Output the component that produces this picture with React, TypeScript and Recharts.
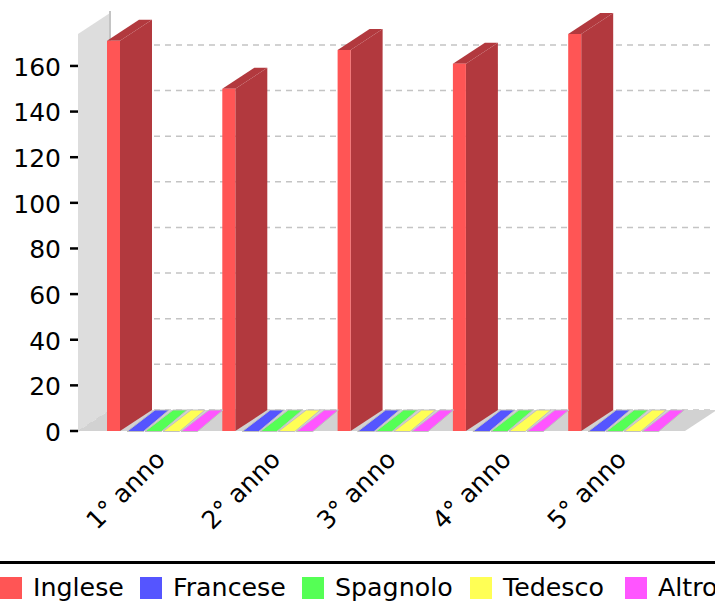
import { Bar, BarChart, CartesianGrid, Legend, usePlotArea, XAxis, YAxis } from "recharts";

const categories = ["1° anno", "2° anno", "3° anno", "4° anno", "5° anno"];
const inglese = [171, 150, 167, 161, 174];
const francese = [0, 0, 0, 0, 0];
const spagnolo = [0, 0, 0, 0, 0];
const tedesco = [0, 0, 0, 0, 0];
const altro = [0, 0, 0, 0, 0];
const yTicks = [0, 20, 40, 60, 80, 100, 120, 140, 160];

const seriesNames = ["Inglese", "Francese", "Spagnolo", "Tedesco", "Altro"];
const seriesColors = ["#ff5555", "#5555ff", "#55ff55", "#ffff55", "#ff55ff"];
const seriesShades = ["#b2393e", "#3b3bb2", "#3bb23b", "#b2b23b", "#b23bb2"];
const legendWidths = [140, 162, 168, 155, 90];

const data = categories.map((name, i) => ({
  name,
  Inglese: inglese[i],
  Francese: francese[i],
  Spagnolo: spagnolo[i],
  Tedesco: tedesco[i],
  Altro: altro[i],
}));

// depth of the fake 3d effect
const DX = 32;
const DY = 21;

const Backdrop = () => {
  const plot = usePlotArea();
  if (!plot) return null;
  const { x, y, width, height } = plot;
  const bottom = y + height;
  return (
    <g>
      <polygon
        points={`${x},${bottom} ${x},${y} ${x + DX},${y - DY} ${x + DX},${bottom - DY}`}
        fill="#dddddd"
      />
      <polygon
        points={`${x},${bottom} ${x + DX},${bottom - DY} ${x + width + DX},${bottom - DY} ${x + width},${bottom}`}
        fill="#d2d2d2"
      />
      <line x1={x + DX} y1={y - DY - 2} x2={x + DX} y2={bottom - DY} stroke="#c4c4c4" strokeWidth={2} />
    </g>
  );
};

const gridLine = (props: any) => {
  const { x1, x2, y1, y, key } = props;
  // the grid also hands over the top edge of the plot, which has no tick
  if (y1 <= y + 0.5) return <g key={key} />;
  return (
    <g key={key}>
      <line x1={x1} y1={y1} x2={x1 + DX} y2={y1 - DY} stroke="#c4c4c4" strokeWidth={1.5} strokeDasharray="6 5" />
      <line x1={x1 + DX} y1={y1 - DY} x2={x2 + DX} y2={y1 - DY} stroke="#c4c4c4" strokeWidth={1.5} strokeDasharray="6 5" />
    </g>
  );
};

const Bar3D = (props: any) => {
  const { x, y, width, height, fill, shade } = props;
  const bottom = y + height;
  if (height < 1) {
    // empty series only show up as a slanted stripe on the floor
    const stripe = `${x + 2},${y + 0.5} ${x + 30},${y - DY} ${x + 44},${y - DY} ${x + 18.5},${y + 0.5}`;
    return <polygon points={stripe} fill={fill} stroke="#c0c0c0" strokeWidth={1} />;
  }
  return (
    <g>
      <polygon
        points={`${x},${y} ${x + DX},${y - DY} ${x + width + DX},${y - DY} ${x + width},${y}`}
        fill={shade}
      />
      <polygon
        points={`${x + width},${y} ${x + width + DX},${y - DY} ${x + width + DX},${bottom - DY} ${x + width},${bottom}`}
        fill={shade}
      />
      <rect x={x} y={y} width={width} height={height} fill={fill} />
    </g>
  );
};

const AngledTick = (props: any) => {
  const { x, y, payload } = props;
  return (
    <text
      x={x + 17}
      y={y + 22}
      transform={`rotate(-45 ${x + 17} ${y + 22})`}
      textAnchor="end"
      fontSize={25}
      fill="#000"
    >
      {payload.value}
    </text>
  );
};

const LegendBox = () => (
  <div
    style={{
      borderTop: "3px solid #000",
      paddingTop: 12,
      display: "flex",
      whiteSpace: "nowrap",
      fontSize: 25.3,
      lineHeight: "24px",
      width: 800,
    }}
  >
    {seriesNames.map((name, i) => (
      <span
        key={name}
        style={{ display: "flex", alignItems: "center", gap: 11, width: legendWidths[i], flex: "none" }}
      >
        <span style={{ width: 22, height: 22, background: seriesColors[i], flex: "none" }} />
        {name}
      </span>
    ))}
  </div>
);

export default function App() {
  return (
    <div
      style={{
        position: "absolute",
        left: 0,
        top: 0,
        width: 715,
        height: 605,
        overflow: "hidden",
        background: "#fff",
        fontFamily: "'DejaVu Sans', sans-serif",
      }}
    >
      <BarChart
        width={715}
        height={605}
        data={data}
        barSize={13}
        barGap={5}
        margin={{ top: 34, right: 30, bottom: 74, left: 0 }}
      >
        <Backdrop />
        <CartesianGrid vertical={false} horizontal={gridLine} />
        <XAxis
          dataKey="name"
          axisLine={false}
          tickLine={false}
          height={100}
          interval={0}
          padding={{ left: 14, right: 16.5 }}
          tick={<AngledTick />}
        />
        <YAxis
          type="number"
          domain={[0, 174]}
          ticks={yTicks}
          width={78}
          axisLine={false}
          tickSize={8}
          tickMargin={9}
          tickLine={{ stroke: "#000", strokeWidth: 2.5 }}
          tick={{ fontSize: 25, fill: "#000", dy: 1 }}
        />
        <Legend
          layout="horizontal"
          verticalAlign="middle"
          align="center"
          wrapperStyle={{ left: 0, top: 561, width: 800 }}
          content={<LegendBox />}
        />
        {seriesNames.map((name, i) => (
          <Bar
            key={name}
            dataKey={name}
            fill={seriesColors[i]}
            isAnimationActive={false}
            shape={(p: any) => <Bar3D {...p} shade={seriesShades[i]} />}
          />
        ))}
      </BarChart>
    </div>
  );
}
